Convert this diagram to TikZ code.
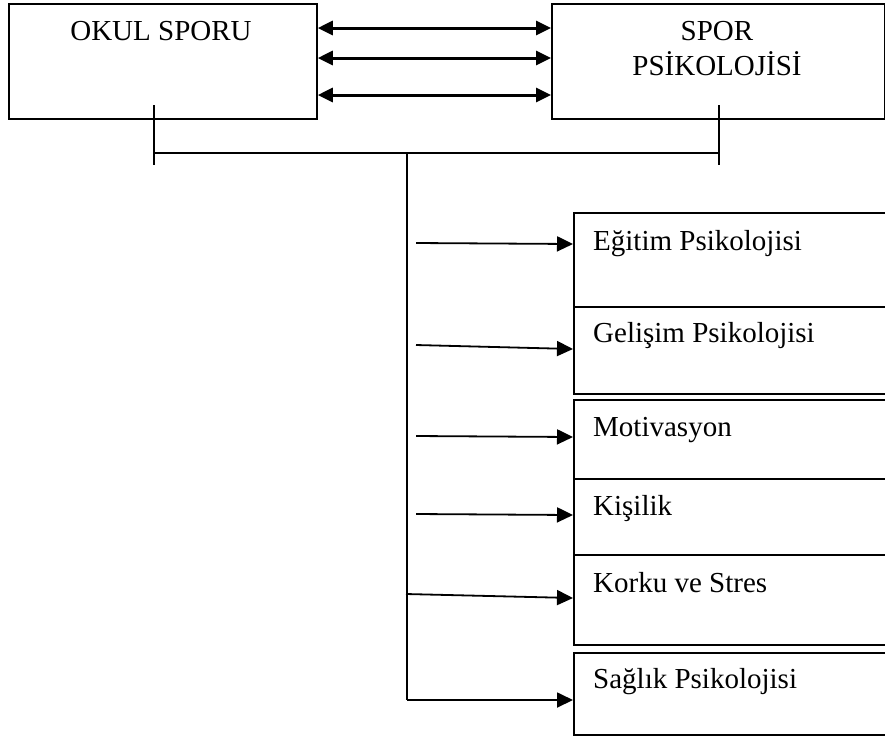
\documentclass[tikz,border=0pt]{standalone}
\usepackage{fontspec}
\setmainfont{Liberation Serif}
\usetikzlibrary{calc, arrows.meta}

\begin{document}
\begin{tikzpicture}[x=1pt, y=-1pt, font=\fontsize{29}{33}\selectfont,
  kutu/.style={draw, line width=1.8pt, inner sep=0pt, anchor=north west},
  yazi/.style={inner sep=0pt, anchor=base west},
  baslik/.style={inner sep=0pt, anchor=base},
  cizgi/.style={line width=1.8pt},
  ok/.style={line width=1.8pt, -{Triangle[length=16pt,width=15pt]}},
  ciftok/.style={line width=3pt, {Triangle[length=15pt,width=14pt]}-{Triangle[length=15pt,width=14pt]}}]
  \clip (0,0) rectangle (885,740);
  % two main boxes on top
  \node[kutu, minimum width=308pt, minimum height=115pt] (okul) at (8,3) {};
  \node[kutu, minimum width=333pt, minimum height=115pt] (spor) at (551,3) {};
  \node[baslik] (okulyazi) at (161,40) {OKUL SPORU};
  \node[baslik] (sporyazi) at (717,40) {SPOR};
  \node[baslik] (psikyazi) at (717,75) {PSİKOLOJİSİ};
  % three links between them
  \draw[ciftok] ($(okul.north east)+(0,25)$) -- ($(spor.north west)+(0,25)$);
  \draw[ciftok] ($(okul.north east)+(0,55)$) -- ($(spor.north west)+(0,55)$);
  \draw[ciftok] ($(okul.north east)+(0,92)$) -- ($(spor.north west)+(0,92)$);
  % bracket under the boxes
  \coordinate (solust) at (154,105);
  \coordinate (solalt) at (154,165);
  \coordinate (sagust) at (719,105);
  \coordinate (sagalt) at (719,165);
  \coordinate (solkol) at (154,153);
  \coordinate (sagkol) at (719,153);
  \coordinate (kol) at (407,153);
  \coordinate (kolalt) at (407,700);
  \draw[cizgi] (solust) -- (solalt);
  \draw[cizgi] (sagust) -- (sagalt);
  \draw[cizgi] (solkol) -- (sagkol);
  \draw[cizgi] (kol) -- (kolalt);
  % sub-topics on the right (cut by the page edge)
  \node[kutu, minimum width=340pt, minimum height=94pt] (egitim) at (573,212) {};
  \node[kutu, minimum width=340pt, minimum height=87pt] (gelisim) at (573,306) {};
  \node[kutu, minimum width=340pt, minimum height=79pt] (motivasyon) at (573,399) {};
  \node[kutu, minimum width=340pt, minimum height=76pt] (kisilik) at (573,478) {};
  \node[kutu, minimum width=340pt, minimum height=90pt] (korku) at (573,554) {};
  \node[kutu, minimum width=340pt, minimum height=82pt] (saglik) at (573,652) {};
  \node[yazi] (egitimyazi) at (593,250) {Eğitim Psikolojisi};
  \node[yazi] (gelisimyazi) at (593,342) {Gelişim Psikolojisi};
  \node[yazi] (motivasyonyazi) at (593,436) {Motivasyon};
  \node[yazi] (kisilikyazi) at (593,515) {Kişilik};
  \node[yazi] (korkuyazi) at (593,592) {Korku ve Stres};
  \node[yazi] (saglikyazi) at (593,688) {Sağlık Psikolojisi};
  % arrows to the sub-topics
  \coordinate (a1) at (416,243);
  \coordinate (a2) at (416,345);
  \coordinate (a3) at (416,436);
  \coordinate (a4) at (416,514);
  \coordinate (a5) at (406,594);
  \draw[ok] (a1) -- ($(egitim.north west)+(0,32)$);
  \draw[ok] (a2) -- ($(gelisim.north west)+(0,43)$);
  \draw[ok] (a3) -- ($(motivasyon.north west)+(0,38)$);
  \draw[ok] (a4) -- ($(kisilik.north west)+(0,37)$);
  \draw[ok] (a5) -- ($(korku.north west)+(0,44)$);
  \draw[ok] (kolalt) -- (kolalt -| saglik.west);
\end{tikzpicture}
\end{document}
